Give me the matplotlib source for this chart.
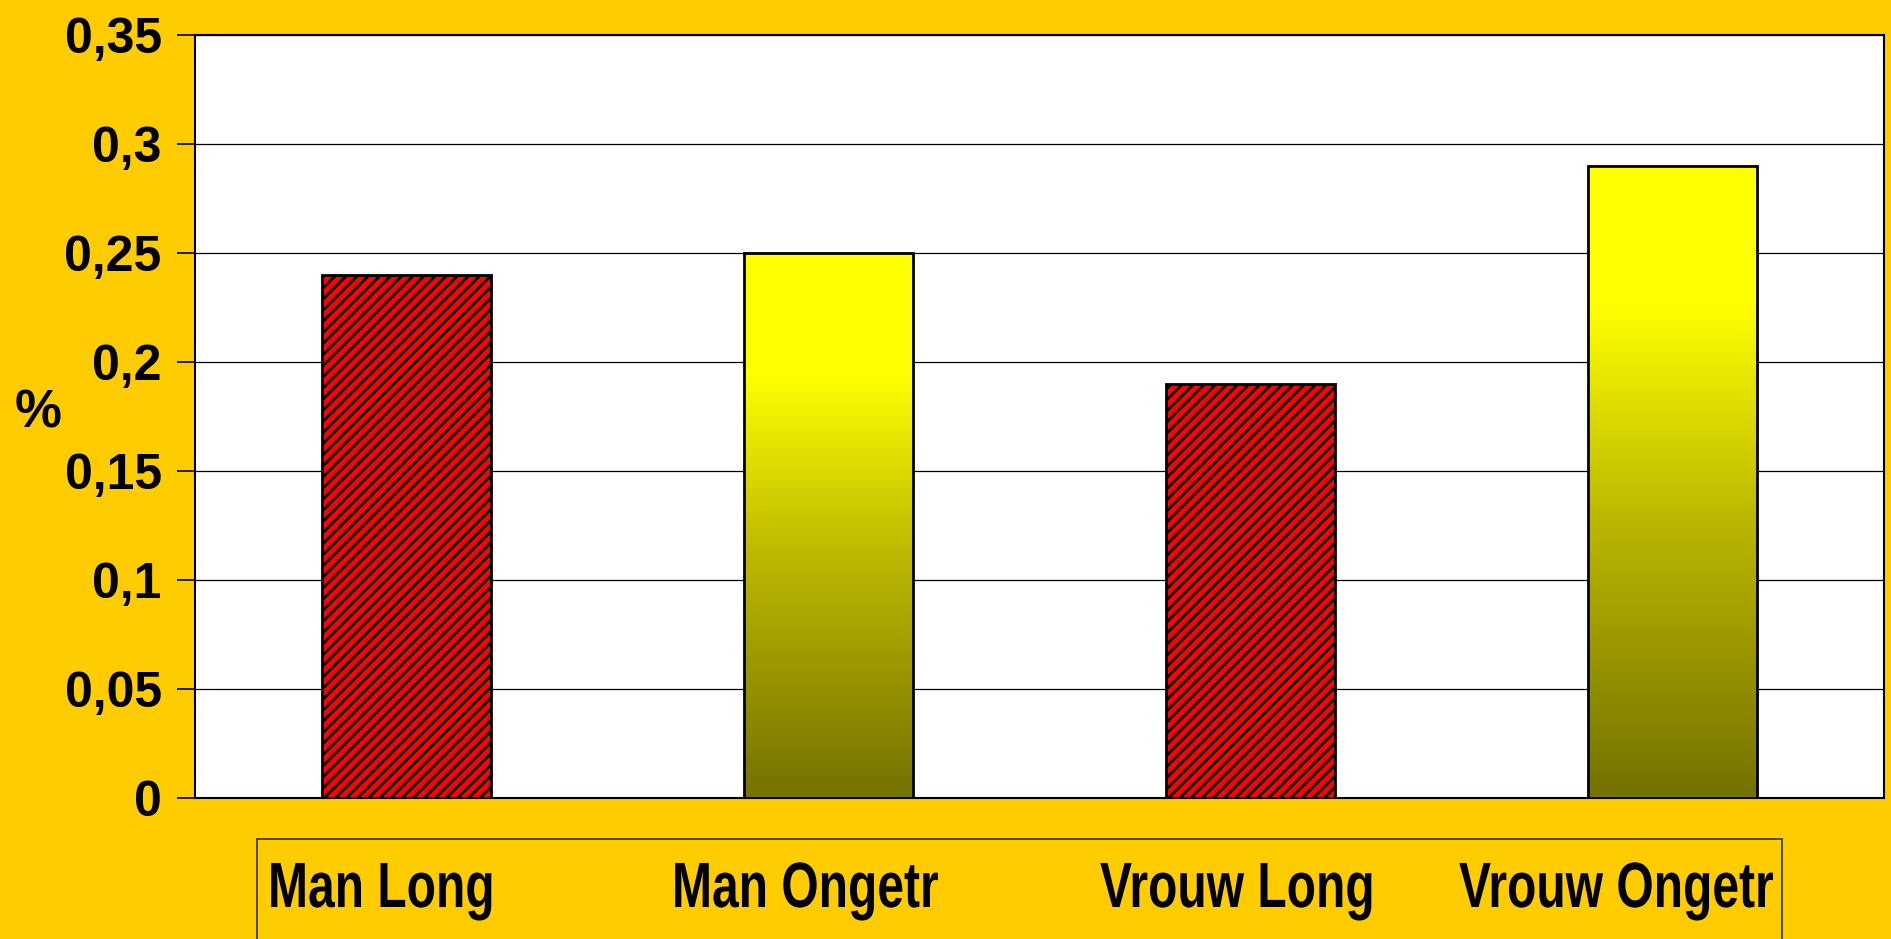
import numpy as np
import matplotlib
matplotlib.use("Agg")
import matplotlib.pyplot as plt
from matplotlib.colors import LinearSegmentedColormap
from matplotlib.patches import Rectangle, PathPatch
from matplotlib.textpath import TextPath
from matplotlib.font_manager import FontProperties
from matplotlib.transforms import Affine2D

categories = ["Man Long", "Man Ongetr", "Vrouw Long", "Vrouw Ongetr"]
values = [0.24, 0.25, 0.19, 0.29]
styles = ["hatch", "gradient", "hatch", "gradient"]
yticks = [0, 0.05, 0.1, 0.15, 0.2, 0.25, 0.3, 0.35]
ytick_labels = ["0", "0,05", "0,1", "0,15", "0,2", "0,25", "0,3", "0,35"]

plt.rcParams['font.family'] = ['Liberation Sans', 'DejaVu Sans']
plt.rcParams['hatch.linewidth'] = 2.0

W, H = 1891, 939
fig = plt.figure(figsize=(W / 100, H / 100), dpi=100, facecolor="#FFCC00")
ax = fig.add_axes([195 / W, 1 - 798 / H, (1884 - 195) / W, (798 - 35) / H])
ax.set_facecolor("white")

grad = LinearSegmentedColormap.from_list(
    "olive_yellow", [(0, "#747200"), (0.45, "#BDB900"), (0.78, "#FFFF00"), (1, "#FFFF00")])
g = np.linspace(0, 1, 256).reshape(-1, 1)

x = np.arange(len(categories))
width = 0.4
for xi, v, st in zip(x, values, styles):
    if st == "hatch":
        ax.bar(xi, v, width, color="red", edgecolor="black", hatch="///",
               linewidth=2, zorder=3)
    else:
        ax.imshow(g, cmap=grad, origin="lower", aspect="auto",
                  extent=(xi - width / 2, xi + width / 2, 0, v), zorder=3)
        ax.bar(xi, v, width, facecolor="none", edgecolor="black",
               linewidth=2, zorder=4)

ax.set_xlim(-0.5, len(categories) - 0.5)
ax.set_ylim(0, 0.35)
ax.set_yticks(yticks)
ax.set_yticklabels(ytick_labels, fontsize=36, fontweight="bold")
ax.set_xticks([])
ax.tick_params(axis="y", direction="out", length=13, width=1.2, pad=11)
ax.yaxis.grid(True, color="black", linewidth=0.9, zorder=0)
ax.set_axisbelow(True)
for s in ax.spines.values():
    s.set_linewidth(1.5)
    s.set_color("black")

fig.text(38 / W, 1 - 414 / H, "%", fontsize=38, fontweight="bold",
         ha="center", va="center")

# category box below the plot
fig.add_artist(Rectangle((257 / W, 1 - 960 / H), (1782 - 257) / W, (960 - 839) / H,
                         transform=fig.transFigure, facecolor="none",
                         edgecolor="#333300", linewidth=1.2))

# condensed bold labels, drawn as paths so they can be squeezed
fp = FontProperties(family="Liberation Sans", weight="bold")
label_x = [268, 672, 1100, 1459]
for lx, name in zip(label_x, categories):
    tp = TextPath((0, 0), name, size=64, prop=fp)
    tr = Affine2D().scale(0.75, 1).translate(lx, H - 907)
    fig.add_artist(PathPatch(tp, transform=tr, facecolor="black", edgecolor="none"))

fig.savefig("out.png", dpi=100, facecolor=fig.get_facecolor())
